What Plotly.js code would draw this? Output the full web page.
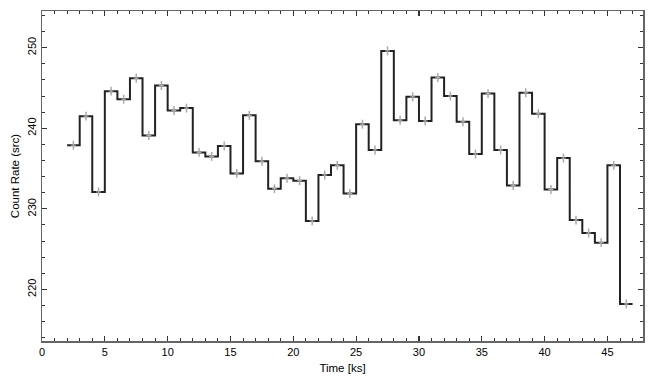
<!DOCTYPE html>
<html>
<head>
<meta charset="utf-8">
<script src="https://cdn.plot.ly/plotly-3.0.1.min.js"></script>
<style>html,body{margin:0;padding:0;background:#fff;}#chart{width:655px;height:385px;}</style>
</head>
<body>
<div id="chart"></div>
<script>
// Bin start times (ks), bin width 1 ks
var binStart = [2,3,4,5,6,7,8,9,10,11,12,13,14,15,16,17,18,19,20,21,22,23,24,25,26,27,28,29,30,31,32,33,34,35,36,37,38,39,40,41,42,43,44,45,46];
var binWidth = 1;
// Count rate per bin
var rate = [237.9,241.5,232.1,244.6,243.6,246.2,239.1,245.3,242.2,242.5,237.0,236.5,237.8,234.4,241.6,235.9,232.5,233.8,233.5,228.5,234.2,235.4,231.9,240.5,237.3,249.6,241.0,243.9,240.9,246.3,244.0,240.8,236.8,244.3,237.3,232.9,244.4,241.8,232.4,236.3,228.6,227.0,225.8,235.4,218.2];
// 1-sigma errors
var rateErr = [0.55,0.55,0.55,0.55,0.55,0.55,0.55,0.55,0.55,0.55,0.55,0.55,0.55,0.55,0.55,0.55,0.55,0.55,0.55,0.55,0.55,0.55,0.55,0.55,0.55,0.55,0.55,0.55,0.55,0.55,0.55,0.55,0.55,0.55,0.55,0.55,0.55,0.55,0.55,0.55,0.55,0.55,0.55,0.55,0.55];
var xTickVals = [0,5,10,15,20,25,30,35,40,45];
var yTickVals = [220,230,240,250];

// step outline: bin edges
var edges = binStart.concat([binStart[binStart.length-1] + binWidth]);
var stepY = rate.concat([rate[rate.length-1]]);
var centers = binStart.map(function(s){ return s + binWidth/2; });

var font = {family: 'Liberation Sans, Arial, sans-serif', size: 11, color: '#000'};
var titleFont = {family: 'Liberation Sans, Arial, sans-serif', size: 11.5, color: '#000'};

var traces = [
  {x: edges, y: stepY, type: 'scatter', mode: 'lines', line: {shape: 'hv', color: '#222', width: 2}, hoverinfo: 'skip'},
  {x: centers, y: rate, type: 'scatter', mode: 'markers', marker: {size: 1, color: 'rgba(0,0,0,0)'},
   error_y: {type: 'data', array: rateErr, visible: true, color: '#aaa', thickness: 1.5, width: 0},
   error_x: {type: 'constant', value: 0.2, visible: true, color: '#aaa', thickness: 1, width: 0}}
];

var axisCommon = {
  showline: true, linecolor: '#666', linewidth: 1.5, mirror: 'ticks',
  ticks: 'inside', ticklen: 5, tickwidth: 1.2, tickcolor: '#333',
  showgrid: false, zeroline: false, tickfont: font
};

var layout = {
  width: 655, height: 385,
  margin: {l: 42, r: 12, t: 11, b: 44},
  paper_bgcolor: '#fff', plot_bgcolor: '#fff',
  showlegend: false,
  font: font,
  xaxis: Object.assign({}, axisCommon, {
    range: [0, 47.83], tickmode: 'array', tickvals: xTickVals,
    minor: {dtick: 1, ticks: 'inside', ticklen: 3, tickcolor: '#333', tickwidth: 1},
    title: {text: 'Time [ks]', font: titleFont, standoff: 7}
  }),
  yaxis: Object.assign({}, axisCommon, {
    range: [213.6, 254.55], tickmode: 'array', tickvals: yTickVals, tickangle: -90,
    minor: {dtick: 2, ticks: 'inside', ticklen: 3, tickcolor: '#333', tickwidth: 1},
    title: {text: 'Count Rate (src)', font: titleFont, standoff: 4}
  })
};

Plotly.newPlot('chart', traces, layout, {staticPlot: true, displayModeBar: false});
</script>
</body>
</html>
